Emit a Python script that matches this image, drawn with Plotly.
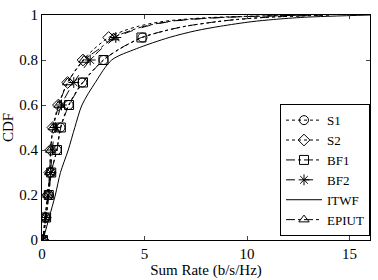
import plotly.graph_objects as go

# CDF levels at which markers are drawn
marker_levels = [0, 0.1, 0.2, 0.3, 0.4, 0.5, 0.6, 0.7, 0.8, 0.9]
# CDF levels used for the curves (markers levels + upper tail)
line_levels = [0, 0.1, 0.2, 0.3, 0.4, 0.5, 0.6, 0.7, 0.8, 0.85, 0.9,
               0.93, 0.95, 0.97, 0.98, 0.99, 1.0]

s1 = [0.05, 0.2, 0.33, 0.45, 0.72, 0.9, 1.3, 1.97, 3.0, 3.8, 4.9,
      6.0, 7.0, 8.5, 9.5, 11.0, 14.0]
s2 = [0.05, 0.15, 0.28, 0.38, 0.42, 0.53, 0.8, 1.25, 2.0, 2.55, 3.25,
      4.0, 4.7, 5.8, 6.8, 8.5, 13.0]
bf1 = [0.05, 0.2, 0.33, 0.45, 0.73, 0.92, 1.32, 2.0, 3.0, 3.8, 4.85,
       6.0, 7.0, 8.5, 9.5, 11.0, 14.0]
bf2 = [0.05, 0.18, 0.3, 0.42, 0.5, 0.65, 0.95, 1.55, 2.35, 2.9, 3.6,
       4.4, 5.1, 6.2, 7.2, 9.0, 13.0]
itwf = [0.05, 0.35, 0.65, 0.9, 1.28, 1.6, 1.95, 2.6, 3.4, 4.6, 6.2,
        7.5, 8.7, 10.2, 11.3, 12.8, 16.0]
epiut = [0.05, 0.15, 0.28, 0.38, 0.42, 0.55, 0.83, 1.25, 2.05, 2.8, 3.5,
         4.3, 5.0, 6.1, 7.1, 9.0, 13.0]

series = [
    ("S1", s1, "dot", "circle-open"),
    ("S2", s2, "dot", "diamond-open"),
    ("BF1", bf1, "dashdot", "square-open"),
    ("BF2", bf2, "dash", "asterisk-open"),
    ("ITWF", itwf, "solid", None),
    ("EPIUT", epiut, "dashdot", "triangle-up-open"),
]

fig = go.Figure()
for name, xs, dash, sym in series:
    line = dict(color="black", width=1, dash=dash, shape="spline", smoothing=0.8)
    marker = dict(symbol=sym or "circle", size=9, color="black",
                  line=dict(color="black", width=1))
    # curve
    fig.add_trace(go.Scatter(x=xs, y=line_levels, mode="lines", line=line,
                             showlegend=False, legendgroup=name, hoverinfo="skip"))
    # markers at the marker levels only
    if sym:
        mx = [x for x, lv in zip(xs, line_levels) if lv in marker_levels]
        fig.add_trace(go.Scatter(x=mx, y=marker_levels, mode="markers",
                                 marker=marker, showlegend=False, legendgroup=name))
    # legend entry
    fig.add_trace(go.Scatter(x=[None], y=[None], name=name, legendgroup=name,
                             mode="lines+markers" if sym else "lines",
                             line=dict(color="black", width=1, dash=dash),
                             marker=marker))

font_family = "Liberation Serif"
fig.update_layout(
    width=378, height=280,
    margin=dict(l=41, r=7, t=11, b=37),
    paper_bgcolor="white", plot_bgcolor="white",
    font=dict(family=font_family, size=14, color="black"),
    showlegend=True,
    legend=dict(x=1, y=0.017, xanchor="right", yanchor="bottom",
                bgcolor="white", bordercolor="black", borderwidth=1,
                font=dict(family=font_family, size=13, color="black"),
                tracegroupgap=0, itemwidth=36),
    xaxis=dict(range=[0, 16], tickvals=[0, 5, 10, 15], ticks="inside", ticklen=4,
               showline=True, linecolor="black", linewidth=1, mirror="ticks",
               showgrid=False, zeroline=False,
               tickfont=dict(family=font_family, size=15),
               title=dict(text="Sum Rate (b/s/Hz)", standoff=0,
                          font=dict(family=font_family, size=15))),
    yaxis=dict(range=[0, 1], tickvals=[0, 0.2, 0.4, 0.6, 0.8, 1],
               ticktext=["0", "0.2", "0.4", "0.6", "0.8", "1"],
               ticks="inside", ticklen=4,
               showline=True, linecolor="black", linewidth=1, mirror="ticks",
               showgrid=False, zeroline=False,
               tickfont=dict(family=font_family, size=15),
               title=dict(text="CDF", standoff=2,
                          font=dict(family=font_family, size=15))),
)

fig.write_html("out.html")
